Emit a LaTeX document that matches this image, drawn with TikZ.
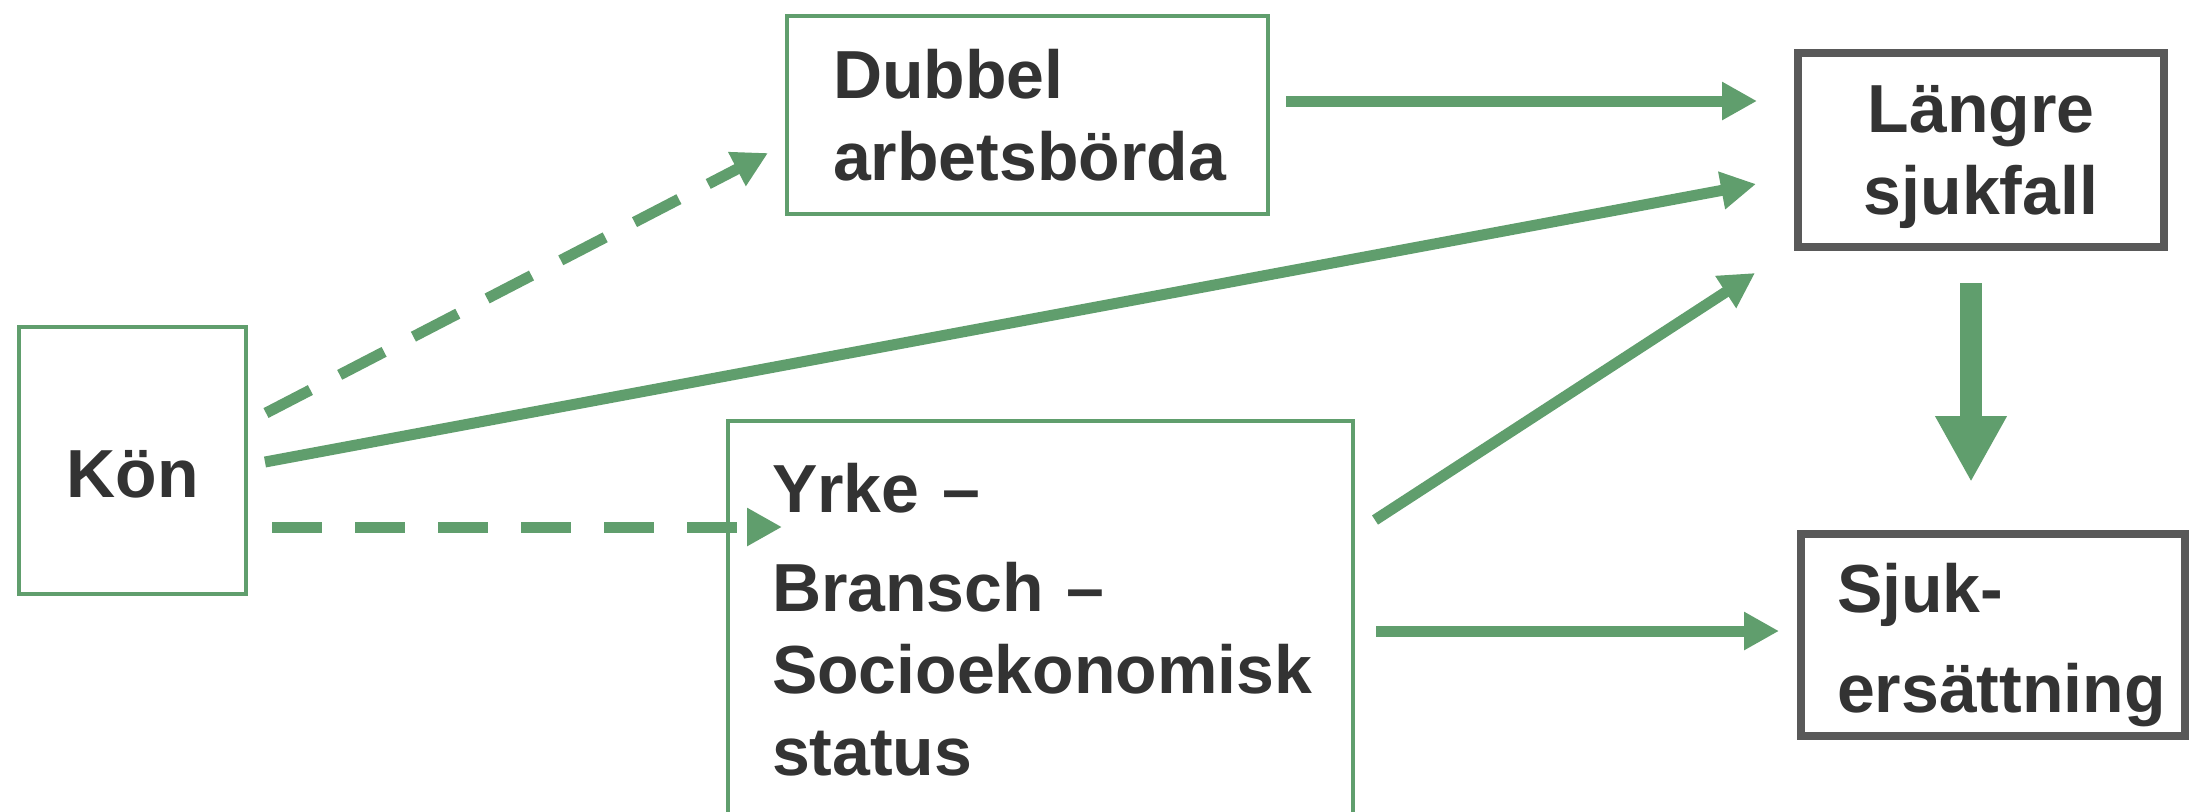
\documentclass[tikz,border=0pt]{standalone}
\usepackage{fontspec}
\setmainfont{Liberation Sans}
\usetikzlibrary{arrows.meta,calc}
\definecolor{grn}{HTML}{609E6D}
\definecolor{gbox}{HTML}{595959}
\definecolor{txt}{HTML}{333333}
\begin{document}
\begin{tikzpicture}[x=0.5pt,y=-0.5pt,
  lbl/.style={font=\bfseries\fontsize{34pt}{41pt}\selectfont, text=txt},
  gbx/.style={draw=grn, line width=2pt, rectangle, lbl},
  dbx/.style={draw=gbox, line width=4pt, rectangle, lbl},
  conn/.style={draw=grn, line width=5.5pt, -{Triangle[length=17.5pt,width=18pt]}},
  dconn/.style={conn, dash pattern=on 25pt off 16.5pt},
  bigarrow/.style={draw=grn, line width=11pt, -{Triangle[length=33pt,width=33.5pt]}}]
\clip (0,0) rectangle (2189,811);
\fill[white] (0,0) rectangle (2189,811);

\node[gbx, minimum width=113.5pt, minimum height=133.5pt, inner sep=0pt,
      text height=36.5pt, text depth=0pt] (K) at (132.5,460.5) {Kön};
\node[gbx, minimum height=99pt, inner ysep=0pt, inner xsep=23pt, text width=194.5pt, align=left] (D) at (1027.5,115)
  {Dubbel\\arbetsbörda};
\node[gbx, minimum height=199pt, inner ysep=0pt, inner xsep=22pt, text width=268.5pt, align=left] (Y) at (1040.5,620)
  {Yrke –\\[8.5pt]Bransch –\\Socioekonomisk\\status};
\node[dbx, minimum width=183pt, minimum height=97pt, inner sep=0pt, align=center] (L) at (1981,150)
  {\rule{0pt}{31pt}Längre\\sjukfall};
\node[dbx, minimum height=101pt, inner ysep=0pt, inner xsep=18pt, text width=156pt, align=left] (S) at (1993,635)
  {\rule{0pt}{35pt}Sjuk-\\[9pt]ersättning};

\coordinate (ky) at ($(K.east)+(24,66.5)$);
\coordinate (dl) at ($(D.east)+(16,-14)$);
\coordinate (ys) at ($(Y.north east)+(21,212)$);

\draw[dconn] ($(K.east)+(18,-47.5)$) -- ($(D.west)+(-17,38)$);
\draw[conn] ($(K.east)+(17,1.5)$) -- ($(L.west)+(-38,34)$);
\draw[dconn, shorten >=-28pt] (ky) -- (ky -| Y.west);
\draw[conn, shorten >=18.5pt] (dl) -- (dl -| L.west);
\draw[conn] ($(Y.north east)+(20,101)$) -- ($(L.west)+(-39,123)$);
\draw[conn, shorten >=9pt] (ys) -- (ys -| S.west);
\draw[bigarrow] ($(L.south)+(-10,32)$) -- ($(S.north)+(-22,-48)$);
\end{tikzpicture}
\end{document}
